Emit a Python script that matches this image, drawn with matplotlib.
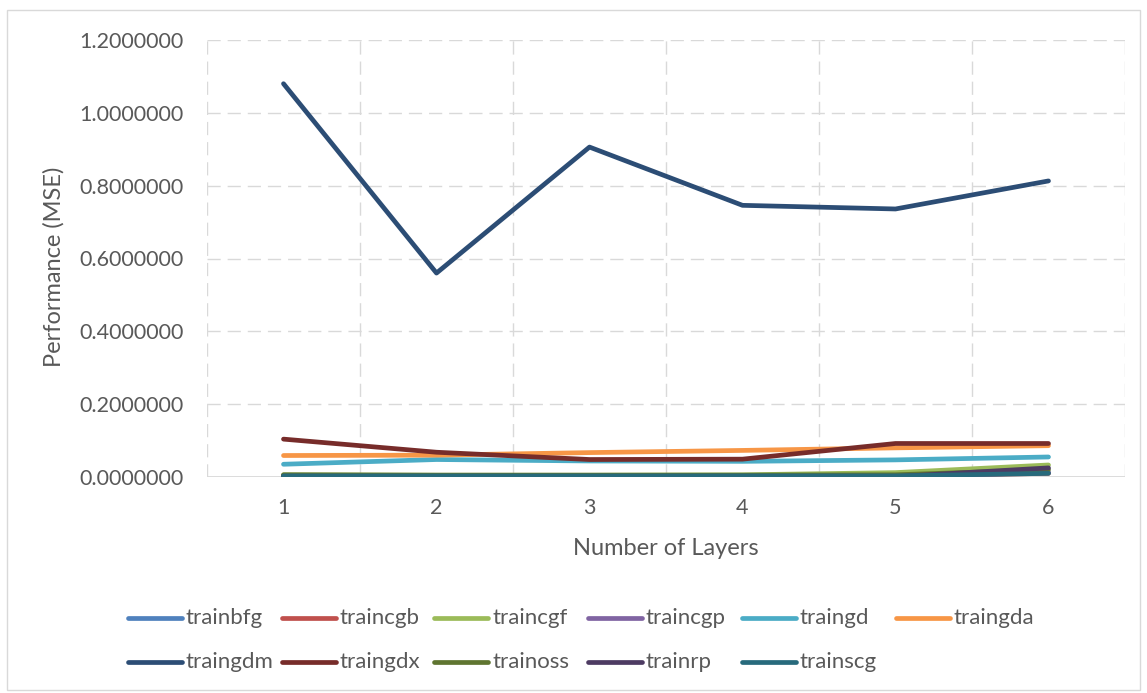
import matplotlib
matplotlib.use("Agg")
import matplotlib.pyplot as plt
from matplotlib.lines import Line2D
from matplotlib.patches import Rectangle

plt.rcParams['font.family'] = ['Lato', 'DejaVu Sans']

layers = [1, 2, 3, 4, 5, 6]
tick_labels = ["1", "2", "3", "4", "5", "6"]

trainbfg = [0.004, 0.003, 0.003, 0.003, 0.002, 0.012]
traincgb = [0.004, 0.003, 0.003, 0.003, 0.003, 0.010]
traincgf = [0.006, 0.005, 0.005, 0.006, 0.012, 0.033]
traincgp = [0.004, 0.003, 0.003, 0.003, 0.002, 0.012]
traingd = [0.035, 0.048, 0.044, 0.043, 0.047, 0.055]
traingda = [0.059, 0.060, 0.067, 0.073, 0.080, 0.086]
traingdm = [1.080, 0.560, 0.906, 0.746, 0.736, 0.813]
traingdx = [0.104, 0.068, 0.048, 0.049, 0.092, 0.092]
trainoss = [0.006, 0.005, 0.005, 0.005, 0.006, 0.020]
trainrp = [0.002, 0.001, 0.001, 0.001, 0.001, 0.025]
trainscg = [0.003, 0.003, 0.003, 0.003, 0.003, 0.010]

series_names = ["trainbfg", "traincgb", "traincgf", "traincgp", "traingd", "traingda",
                "traingdm", "traingdx", "trainoss", "trainrp", "trainscg"]
series_values = [trainbfg, traincgb, traincgf, traincgp, traingd, traingda,
                 traingdm, traingdx, trainoss, trainrp, trainscg]
colors = ["#4F81BD", "#C0504D", "#9BBB59", "#8064A2", "#4BACC6", "#F79646",
          "#2C4D75", "#772C2A", "#5F7530", "#4D3B62", "#276A7C"]

y_ticks = [0.0, 0.2, 0.4, 0.6, 0.8, 1.0, 1.2]

W, H = 1147, 693
fig = plt.figure(figsize=(W / 100, H / 100), dpi=100)
ax = fig.add_axes([207 / W, 1 - 477 / H, (1125 - 207) / W, (477 - 40) / H])

text_color = "#595959"
grid_color = "#D9D9D9"

for name, vals, c in zip(series_names, series_values, colors):
    ax.plot(layers, vals, color=c, lw=3.4, solid_capstyle='round',
            solid_joinstyle='round', label=name, zorder=3)

ax.set_xlim(0.5, 6.5)
ax.set_ylim(0, 1.2)
ax.set_yticks(y_ticks)
ax.set_yticklabels([f"{v:.7f}" for v in y_ticks])
ax.set_xticks(layers)
ax.set_xticklabels(tick_labels)

# gridlines: horizontal at value ticks, vertical at category boundaries
for v in y_ticks[1:]:
    ax.axhline(v, color=grid_color, lw=1.0, dashes=(9.5, 5), zorder=1)
for b in [0.5, 1.5, 2.5, 3.5, 4.5, 5.5, 6.5]:
    ax.axvline(b, color=grid_color, lw=1.0, dashes=(9.5, 5), zorder=1)
ax.axhline(0, color=grid_color, lw=1.3, zorder=2)

for s in ax.spines.values():
    s.set_visible(False)
ax.tick_params(axis='both', length=0, labelsize=15.5, colors=text_color)
ax.tick_params(axis='y', pad=17)
ax.tick_params(axis='x', pad=15)

ax.set_xlabel("Number of Layers", fontsize=17, color=text_color)
ax.set_ylabel("Performance (MSE)", fontsize=17, color=text_color)
ax.xaxis.set_label_coords(0.5, -0.1625)
ax.yaxis.set_label_coords(-0.1667, 0.48)
ax.xaxis.label.set_va('center')
ax.yaxis.label.set_va('center')

# legend, two rows beneath the plot
col_x = [128, 282, 434, 588, 742, 896]
row_y = [618, 662]
for i, (name, c) in enumerate(zip(series_names, colors)):
    r, k = divmod(i, 6)
    x0 = col_x[k]
    y0 = row_y[r]
    fig.add_artist(Line2D([x0 / W, (x0 + 54) / W], [1 - y0 / H, 1 - y0 / H],
                          color=c, lw=3.4, solid_capstyle='round',
                          transform=fig.transFigure))
    fig.text((x0 + 58) / W, 1 - y0 / H, name, fontsize=16, color=text_color,
             va='center', ha='left')

# chart border
fig.add_artist(Rectangle((7 / W, 1 - 690 / H), (1140 - 7) / W, (690 - 10) / H,
                         transform=fig.transFigure, fill=False,
                         edgecolor="#D9D9D9", lw=1.0))

fig.savefig("out.png", dpi=100)
